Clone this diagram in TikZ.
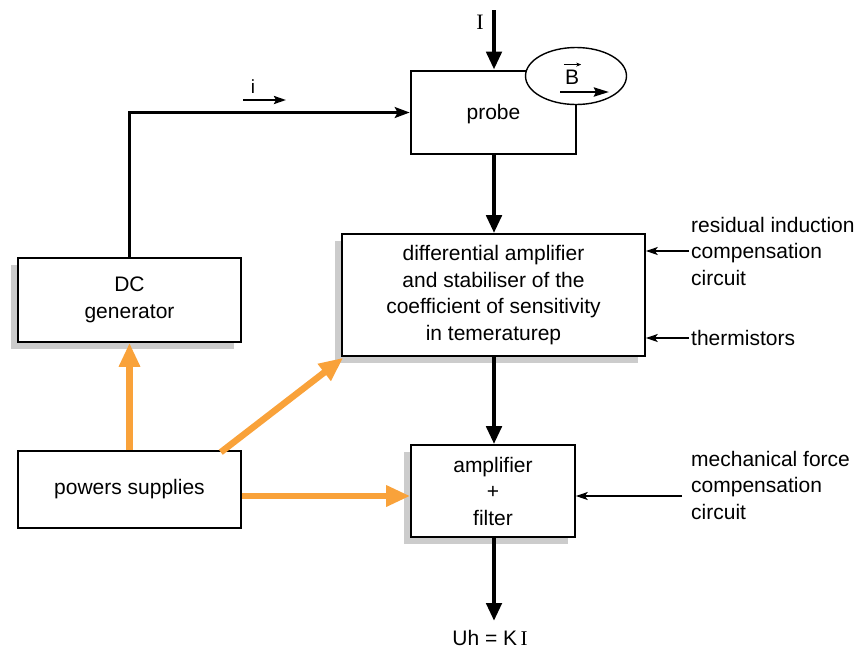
\documentclass[tikz,border=0pt]{standalone}
\usepackage{fontspec}
\setmainfont{Liberation Sans}
\newfontfamily\serifI{Liberation Serif}
\usetikzlibrary{arrows.meta,shapes.geometric,shadows,calc}
\definecolor{pwr}{HTML}{F9A23A}
\definecolor{shd}{HTML}{CCCCCC}
\tikzset{
  blk/.style={draw, fill=white, line width=1.6pt, inner sep=0pt, align=center,
    font=\fontsize{21}{26.5}\selectfont},
  shd/.style={drop shadow={shadow xshift=-7pt, shadow yshift=-7pt, fill=shd, opacity=1}},
  lbl/.style={inner sep=0pt, align=left, anchor=west, font=\fontsize{21}{26.5}\selectfont},
  thick arrow/.style={line width=4.5pt, -{Triangle[length=18pt,width=15pt]}},
  power/.style={draw=pwr, line width=6.5pt, -{Triangle[length=24pt,width=20pt]}},
  thin arrow/.style={line width=1.3pt, -{Stealth[length=12pt,width=8pt,inset=3pt]}},
  mid arrow/.style={line width=2.3pt, -{Stealth[length=15pt,width=11pt,inset=3pt]}},
}
\begin{document}
\begin{tikzpicture}[x=1pt,y=-1pt]
\useasboundingbox (0,0) rectangle (868,649);
% boxes
\node[blk, line width=2.7pt, minimum width=165pt, minimum height=83pt] (probe) at (493.5,112.5) {};
\node[inner sep=0pt, font=\fontsize{21}{26.5}\selectfont] (probetxt) at (493.5,114) {probe};
\node[blk, draw, line width=1.4pt, ellipse, minimum width=101pt, minimum height=57pt] (bfield) at (576,76) {};
\node[inner sep=0pt, font=\fontsize{21}{24}\selectfont] (B) at (572,77) {B};
\draw[line width=0.7pt, -{Stealth[length=5pt,width=4pt]}] ($(B.north west)+(-1,-5)$) -- ($(B.north east)+(2,-5)$);
\coordinate (Bs) at (560,92);
\coordinate (Be) at (609,92);
\draw[line width=2.7pt, -{Stealth[length=15pt,width=9pt,inset=2pt]}] (Bs) -- (Be);

\node[blk, shd, minimum width=223pt, minimum height=84pt] (dc) at (129.5,300) {DC\\generator};
\node[blk, shd, minimum width=303pt, minimum height=122pt] (diff) at (493.5,295)
  {differential amplifier\\and stabiliser of the\\coefficient of sensitivity\\in temeraturep};
\node[blk, shd, minimum width=164pt, minimum height=92pt] (amp) at (493,491) {amplifier\\+\\filter};
\node[blk, minimum width=223pt, minimum height=77pt] (ps) at (129.5,489.5) {powers supplies};

% top current I
\node[inner sep=0pt, font=\serifI\fontsize{22}{24}\selectfont] (Ilbl) at (480,22) {I};
\coordinate (Itop) at (494,10);
\draw[thick arrow] (Itop) -- (Itop |- probe.north);

% DC generator to probe
\draw[mid arrow] (dc.north) |- (probe.west);
\node[inner sep=0pt, font=\fontsize{19}{22}\selectfont] (ilbl) at (253,87) {i};
\coordinate (is) at (243,100);
\coordinate (ie) at (286,100);
\draw[line width=2.3pt, -{Stealth[length=12pt,width=8pt,inset=2pt]}] (is) -- (ie);

% main chain
\draw[thick arrow] (probe.south -| Itop) -- (diff.north -| Itop);
\draw[thick arrow] (diff.south -| Itop) -- (amp.north -| Itop);
\coordinate (out) at (494,621);
\draw[thick arrow] (amp.south -| out) -- (out);
\node[inner sep=0pt, font=\fontsize{21}{24}\selectfont] (Uh) at (490,638) {Uh = K\,{\serifI I}};

% right labels
\node[lbl] (res) at (691,251) {residual induction\\compensation\\circuit};
\node[lbl] (therm) at (691,338) {thermistors};
\node[lbl] (mech) at (691,485) {mechanical force\\compensation\\circuit};
\draw[thin arrow] ($(res.west)+(-2,0)$) -- (res.west -| diff.east);
\draw[thin arrow] ($(therm.west)+(-2,0)$) -- (therm.west -| diff.east);
\coordinate (mechs) at (682,496);
\draw[thin arrow] (mechs) -- (mechs -| amp.east);

% power arrows
\draw[power] (ps.north) -- (dc.south);
\draw[power] ([xshift=-21pt,yshift=-2pt]ps.north east) -- ([xshift=2pt,yshift=-1pt]diff.south west);
\draw[power] (ps.east |- mechs) -- (amp.west |- mechs);
\end{tikzpicture}
\end{document}
